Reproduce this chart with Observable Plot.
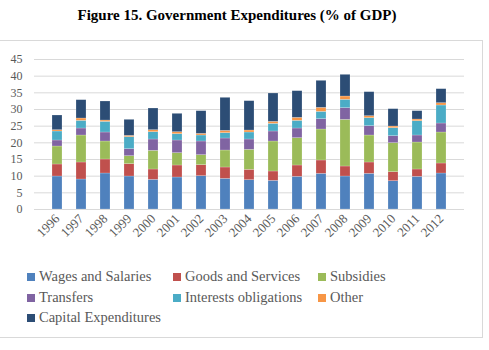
<!DOCTYPE html>
<html><head><meta charset="utf-8">
<script src="https://cdn.jsdelivr.net/npm/d3@7"></script>
<script src="https://cdn.jsdelivr.net/npm/@observablehq/plot@0.6"></script>
<style>
body{margin:0;background:#fff;}
#wrap{position:relative;width:489px;height:350px;overflow:hidden;font-family:"Liberation Serif","Times New Roman",serif;}
#title{position:absolute;left:0;width:474px;top:7px;text-align:center;font-weight:bold;font-size:15px;color:#000;}
#box{position:absolute;left:-1px;top:40px;width:482px;height:296px;border:1px solid #d9d9d9;}
#chart{position:absolute;left:0;top:40px;}
.lg{position:absolute;font-family:"Liberation Serif","Times New Roman",serif;font-size:14.5px;color:#595959;white-space:nowrap;}
.lg span{display:inline-block;width:8px;height:8px;margin-right:4px;vertical-align:0px;}
</style></head><body>
<div id="wrap"><div id="title">Figure 15. Government Expenditures (% of GDP)</div><div id="box"></div><div id="chart"></div></div>
<script>
const years = ["1996","1997","1998","1999","2000","2001","2002","2003","2004","2005","2006","2007","2008","2009","2010","2011","2012"];
const seriesNames = ["Wages and Salaries","Goods and Services","Subsidies","Transfers","Interests obligations","Other","Capital Expenditures"];
const colors = ["#4F81BD","#C0504D","#9BBB59","#8064A2","#4BACC6","#F79646","#2C4D75"];
const wages     = [9.9, 9.0,10.8, 9.9, 8.9, 9.6,10.0, 9.2, 8.8, 8.6, 9.8,10.7, 9.9,10.7, 8.5, 9.8,10.8];
const goods     = [3.6, 5.1, 4.2, 3.7, 3.1, 3.6, 3.3, 3.4, 3.1, 2.8, 3.4, 4.0, 3.0, 3.4, 2.7, 2.2, 3.0];
const subsidies = [5.4, 8.1, 5.4, 2.4, 5.6, 3.7, 3.0, 5.1, 6.0, 9.0, 8.2, 9.3,14.0, 8.1, 8.7, 8.1, 9.3];
const transfers = [1.8, 2.1, 2.7, 2.1, 3.4, 3.8, 4.1, 3.6, 3.1, 3.0, 2.9, 3.1, 3.5, 2.8, 2.1, 2.1, 2.7];
const interests = [2.7, 2.3, 3.2, 3.6, 2.2, 1.9, 1.8, 1.6, 2.1, 2.3, 2.3, 2.2, 2.5, 2.4, 2.4, 4.3, 5.4];
const other     = [0.4, 0.7, 0.4, 0.4, 0.6, 0.6, 0.5, 0.7, 0.6, 0.6, 0.9, 1.2, 1.0, 0.6, 0.5, 0.5, 0.7];
const capital   = [4.4, 5.5, 5.7, 4.8, 6.5, 5.5, 6.8, 9.9, 8.8, 8.5, 8.0, 8.1, 6.5, 7.2, 5.2, 2.5, 4.2];
const yTicks = [0,5,10,15,20,25,30,35,40,45];

const seriesValues = [wages, goods, subsidies, transfers, interests, other, capital];
const data = [];
seriesNames.forEach((s, i) => years.forEach((y, j) => data.push({year: y, series: s, value: seriesValues[i][j]})));

const plot = Plot.plot({
  width: 482, height: 225,
  marginTop: 19, marginBottom: 56, marginLeft: 34, marginRight: 18,
  style: {fontFamily: '"Liberation Serif","Times New Roman",serif', color: "#595959", background: "transparent"},
  x: {domain: years, padding: 0.58, label: null, tickSize: 0, tickPadding: 6, tickRotate: -45},
  y: {domain: [0, 45], ticks: yTicks, label: null, tickSize: 0, tickPadding: 12},
  color: {domain: seriesNames, range: colors},
  marks: [
    Plot.gridY(yTicks, {stroke: "#d9d9d9", strokeOpacity: 1}),
    Plot.barY(data, {x: "year", y: "value", fill: "series", order: seriesNames, stroke: "#ffffff", strokeOpacity: 0.35, strokeWidth: 0.6}),
    Plot.axisY(yTicks, {tickSize: 0, tickPadding: 12, fontSize: 12, fill: "#595959", label: null}),
    Plot.axisX({tickSize: 0, tickPadding: 7, tickRotate: -45, fontSize: 13, fill: "#595959", label: null})
  ]
});
document.getElementById("chart").appendChild(plot);

const wrap = document.getElementById("wrap");
const cols = [27, 173, 318], rows = [268, 289, 309];
const scale = plot.scale("color");
seriesNames.forEach((s, i) => {
  const d = document.createElement("div");
  d.className = "lg";
  d.style.left = cols[i % 3] + "px";
  d.style.top = rows[Math.floor(i / 3)] + "px";
  const sw = document.createElement("span");
  sw.style.background = scale.apply(s);
  d.appendChild(sw);
  d.appendChild(document.createTextNode(s));
  wrap.appendChild(d);
});
</script></body></html>
